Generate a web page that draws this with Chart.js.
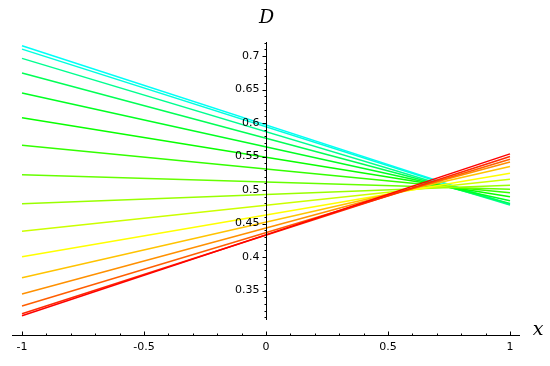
<!DOCTYPE html>
<html><head><meta charset="utf-8">
<script src="https://cdn.jsdelivr.net/npm/chart.js@4"></script>
<style>html,body{margin:0;padding:0;background:#fff}</style>
</head><body>
<canvas id="c" width="550" height="366"></canvas>
<script>
const xEnds = [-1, 1];
const leftD  = [0.7154, 0.7104, 0.6966, 0.6746, 0.6448, 0.6079, 0.5667, 0.5228, 0.4796, 0.4384, 0.4004, 0.3691, 0.3448, 0.3269, 0.3154, 0.3124];
const rightD = [0.4790, 0.4785, 0.4776, 0.4800, 0.4840, 0.4900, 0.4960, 0.5010, 0.5070, 0.5160, 0.5250, 0.5350, 0.5420, 0.5460, 0.5500, 0.5540];
const hues = [178, 172, 154, 140, 128, 118, 108, 96, 84, 72, 60, 46, 34, 22, 10, 0];
const xTickValues = [-1, -0.5, 0, 0.5, 1];
const xTickLabels = ['-1', '-0.5', '0', '0.5', '1'];
const yTickValues = [0.35, 0.4, 0.45, 0.5, 0.55, 0.6, 0.65, 0.7];
const yTickLabels = ['0.35', '0.4', '0.45', '0.5', '0.55', '0.6', '0.65', '0.7'];
const xLabel = 'x';
const yLabel = 'D';
const xRange = [-1.041, 1.041];
const yRange = [0.2836, 0.721];
const yAxisLow = 0.306;

const datasets = leftD.map((l, i) => ({
  data: [{x: xEnds[0], y: l}, {x: xEnds[1], y: rightD[i]}],
  borderColor: `hsl(${hues[i]},100%,50%)`,
  borderWidth: 1.5,
  pointRadius: 0,
  showLine: true,
  fill: false,
  order: leftD.length - 1 - i
}));

const axesPlugin = {
  id: 'sageAxes',
  afterDatasetsDraw(chart) {
    const ctx = chart.ctx, xs = chart.scales.x, ys = chart.scales.y;
    const x0 = Math.round(xs.getPixelForValue(0)) + 0.5;
    const yb = Math.round(ys.getPixelForValue(yRange[0])) + 0.5;
    ctx.save();
    ctx.strokeStyle = '#000';
    ctx.fillStyle = '#000';
    ctx.lineWidth = 1;
    ctx.beginPath();
    ctx.moveTo(x0, ys.getPixelForValue(yRange[1]));
    ctx.lineTo(x0, ys.getPixelForValue(yAxisLow));
    ctx.moveTo(xs.left, yb);
    ctx.lineTo(xs.right, yb);
    for (let k = Math.ceil(yAxisLow * 100); k <= Math.floor(yRange[1] * 100); k++) {
      const py = Math.round(ys.getPixelForValue(k / 100)) + 0.5;
      const len = (k % 5 === 0) ? 4 : 2;
      ctx.moveTo(x0 - len, py);
      ctx.lineTo(x0, py);
    }
    for (let k = -10; k <= 10; k++) {
      const px = Math.round(xs.getPixelForValue(k / 10)) + 0.5;
      const len = (k % 5 === 0) ? 4 : 2;
      ctx.moveTo(px, yb);
      ctx.lineTo(px, yb - len);
    }
    ctx.stroke();
    ctx.font = '11px "DejaVu Sans"';
    ctx.textAlign = 'right';
    ctx.textBaseline = 'middle';
    yTickValues.forEach((v, i) => ctx.fillText(yTickLabels[i], x0 - 7, ys.getPixelForValue(v)));
    ctx.textAlign = 'center';
    ctx.textBaseline = 'top';
    xTickValues.forEach((v, i) => ctx.fillText(xTickLabels[i], xs.getPixelForValue(v), yb + 6));
    ctx.font = 'italic 19px "DejaVu Serif"';
    ctx.textBaseline = 'middle';
    ctx.fillText(yLabel, x0, 18);
    ctx.fillText(xLabel, xs.right + 18, yb - 5);
    ctx.restore();
  }
};

new Chart(document.getElementById('c'), {
  type: 'scatter',
  data: { datasets },
  options: {
    responsive: false,
    animation: false,
    devicePixelRatio: 1,
    layout: { padding: { left: 12, right: 30, top: 42, bottom: 31 } },
    plugins: { legend: { display: false }, tooltip: { enabled: false } },
    scales: {
      x: { type: 'linear', min: xRange[0], max: xRange[1], display: false },
      y: { type: 'linear', min: yRange[0], max: yRange[1], display: false }
    }
  },
  plugins: [axesPlugin]
});
</script>
</body></html>
